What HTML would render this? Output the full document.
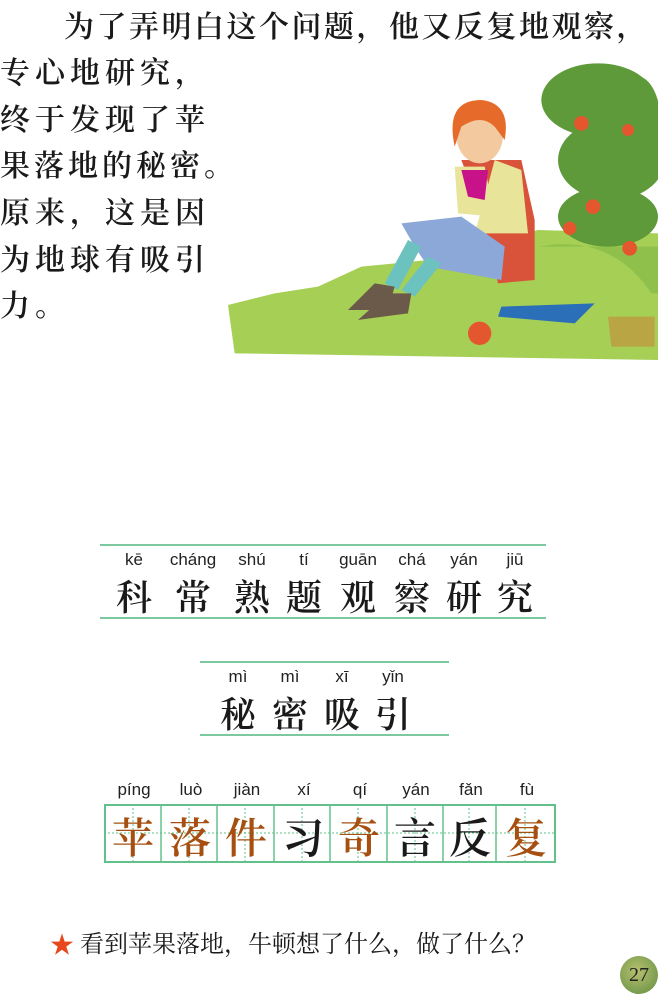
<!DOCTYPE html>
<html><head><meta charset="utf-8"><style>
body{margin:0;width:670px;height:1000px;background:#fff;position:relative;overflow:hidden;font-family:"Liberation Serif","Noto Serif CJK SC",serif;color:#1a1a1a}
.a{position:absolute;white-space:nowrap}
.t{font-size:30px;letter-spacing:5px;font-weight:600}
.py{position:absolute;font-family:"Liberation Sans",sans-serif;font-size:17px;transform:translateX(-50%);color:#222}
.hz{position:absolute;font-family:"Noto Serif CJK SC","Noto Sans CJK SC",serif;font-size:36px;font-weight:600;transform:translateX(-50%)}
.ln{position:absolute;height:2px;background:#7cc9a0}
</style></head><body>
<div class="a t" style="left:64px;top:2px;letter-spacing:2.5px">为了弄明白这个问题，他又反复地观察，</div>
<div class="a t" style="left:0;top:48px">专心地研究，</div>
<div class="a t" style="left:0;top:95px">终于发现了苹</div>
<div class="a t" style="left:0;top:141px;letter-spacing:4px">果落地的秘密。</div>
<div class="a t" style="left:0;top:188px">原来，这是因</div>
<div class="a t" style="left:0;top:235px">为地球有吸引</div>
<div class="a t" style="left:0;top:281px">力。</div>

<svg style="position:absolute;left:228px;top:60px" width="430" height="305" viewBox="0 0 1290 915">
<path d="M0 735 L140 700 L270 680 L400 620 L600 600 L930 510 L1290 520 L1290 900 L20 880 Z" fill="#a6cf55"/>
<path d="M930 560 Q1150 520 1270 700 L1290 700 L1290 560 Z" fill="#8fc04c"/>
<path d="M1140 770 L1280 770 L1280 860 L1150 860 Z" fill="#b9a543"/>
<g fill="#5f9a3a">
<ellipse cx="1110" cy="120" rx="170" ry="110"/><ellipse cx="1150" cy="300" rx="160" ry="120"/><ellipse cx="1140" cy="470" rx="150" ry="90"/><ellipse cx="1230" cy="200" rx="70" ry="150"/>
</g>
<g fill="#e4562e"><circle cx="1060" cy="190" r="22"/><circle cx="1200" cy="210" r="18"/><circle cx="1095" cy="440" r="22"/><circle cx="1025" cy="505" r="20"/><circle cx="1205" cy="565" r="22"/><circle cx="755" cy="820" r="35"/></g>
<path d="M820 740 L1100 730 L1040 790 L810 770 Z" fill="#2a6fb8"/>
<path d="M700 300 L880 300 L920 480 L920 660 L810 670 L760 460 Z" fill="#d9533a"/>
<path d="M680 320 L770 320 L800 470 L690 460 Z" fill="#e8e59a"/>
<path d="M800 300 L880 330 L900 520 L740 520 L760 450 Z" fill="#e8e59a"/>
<path d="M700 330 L780 330 L770 420 L720 410 Z" fill="#c8128a"/>
<path d="M520 490 L700 470 L830 560 L820 660 L600 620 L560 560 Z" fill="#8ca8d8"/>
<path d="M540 540 L580 560 L510 690 L470 670 Z M600 590 L640 610 L560 710 L520 690 Z" fill="#6cc2bf"/>
<path d="M360 750 L440 670 L500 680 L480 750 Z M390 780 L480 700 L550 700 L540 760 Z" fill="#6b5a4a"/>
<ellipse cx="755" cy="225" rx="70" ry="85" fill="#f3c9a0"/>
<path d="M680 260 Q650 120 760 120 Q850 130 830 240 L800 200 Q760 160 700 200 Z" fill="#e66b2a"/>
</svg>

<div class="ln" style="left:100px;top:544px;width:446px"></div>
<div class="ln" style="left:100px;top:617px;width:446px"></div>
<div>
<span class="py" style="left:134px;top:550px">kē</span><span class="hz" style="left:134px;top:570px">科</span>
<span class="py" style="left:193px;top:550px">cháng</span><span class="hz" style="left:193px;top:570px">常</span>
<span class="py" style="left:252px;top:550px">shú</span><span class="hz" style="left:252px;top:570px">熟</span>
<span class="py" style="left:304px;top:550px">tí</span><span class="hz" style="left:304px;top:570px">题</span>
<span class="py" style="left:358px;top:550px">guān</span><span class="hz" style="left:358px;top:570px">观</span>
<span class="py" style="left:412px;top:550px">chá</span><span class="hz" style="left:412px;top:570px">察</span>
<span class="py" style="left:464px;top:550px">yán</span><span class="hz" style="left:464px;top:570px">研</span>
<span class="py" style="left:515px;top:550px">jiū</span><span class="hz" style="left:515px;top:570px">究</span>
</div>

<div class="ln" style="left:200px;top:661px;width:249px"></div>
<div class="ln" style="left:200px;top:734px;width:249px"></div>
<div>
<span class="py" style="left:238px;top:667px">mì</span><span class="hz" style="left:238px;top:687px">秘</span>
<span class="py" style="left:290px;top:667px">mì</span><span class="hz" style="left:290px;top:687px">密</span>
<span class="py" style="left:342px;top:667px">xī</span><span class="hz" style="left:342px;top:687px">吸</span>
<span class="py" style="left:393px;top:667px">yǐn</span><span class="hz" style="left:393px;top:687px">引</span>
</div>

<svg style="position:absolute;left:104px;top:804px" width="452" height="60">
<rect x="1" y="1" width="450" height="57" fill="none" stroke="#62c08a" stroke-width="2"/>
<g stroke="#62c08a" stroke-width="1.5"><line x1="57" y1="0" x2="57" y2="58"/><line x1="113" y1="0" x2="113" y2="58"/><line x1="170" y1="0" x2="170" y2="58"/><line x1="226" y1="0" x2="226" y2="58"/><line x1="283" y1="0" x2="283" y2="58"/><line x1="339" y1="0" x2="339" y2="58"/><line x1="392" y1="0" x2="392" y2="58"/></g>
<g stroke="#62c08a" stroke-width="1" stroke-dasharray="2,2"><line x1="0" y1="29" x2="452" y2="29"/><line x1="29" y1="0" x2="29" y2="58"/><line x1="85" y1="0" x2="85" y2="58"/><line x1="141" y1="0" x2="141" y2="58"/><line x1="198" y1="0" x2="198" y2="58"/><line x1="254" y1="0" x2="254" y2="58"/><line x1="311" y1="0" x2="311" y2="58"/><line x1="365" y1="0" x2="365" y2="58"/><line x1="421" y1="0" x2="421" y2="58"/></g>
</svg>
<div>
<span class="py" style="left:134px;top:780px">píng</span><span class="hz" style="left:133px;top:806px;color:#a64f10;font-size:42px">苹</span>
<span class="py" style="left:191px;top:780px">luò</span><span class="hz" style="left:190px;top:806px;color:#a64f10;font-size:42px">落</span>
<span class="py" style="left:247px;top:780px">jiàn</span><span class="hz" style="left:246px;top:806px;color:#a64f10;font-size:42px">件</span>
<span class="py" style="left:304px;top:780px">xí</span><span class="hz" style="left:303px;top:806px;font-size:42px">习</span>
<span class="py" style="left:360px;top:780px">qí</span><span class="hz" style="left:359px;top:806px;color:#a64f10;font-size:42px">奇</span>
<span class="py" style="left:416px;top:780px">yán</span><span class="hz" style="left:415px;top:806px;font-size:42px">言</span>
<span class="py" style="left:471px;top:780px">fǎn</span><span class="hz" style="left:470px;top:806px;font-size:42px">反</span>
<span class="py" style="left:527px;top:780px">fù</span><span class="hz" style="left:526px;top:806px;color:#a64f10;font-size:42px">复</span>
</div>

<div class="a" style="left:50px;top:925px;font-size:24px;color:#e8461c">★</div>
<div class="a" style="left:80px;top:924px;font-size:24px">看到苹果落地，牛顿想了什么，做了什么？</div>
<div style="position:absolute;left:620px;top:956px;width:38px;height:38px;border-radius:50%;background:radial-gradient(circle at 45% 40%,#b8c070,#5f8d40);font-size:20px;line-height:38px;text-align:center;color:#222">27</div>
</body></html>
